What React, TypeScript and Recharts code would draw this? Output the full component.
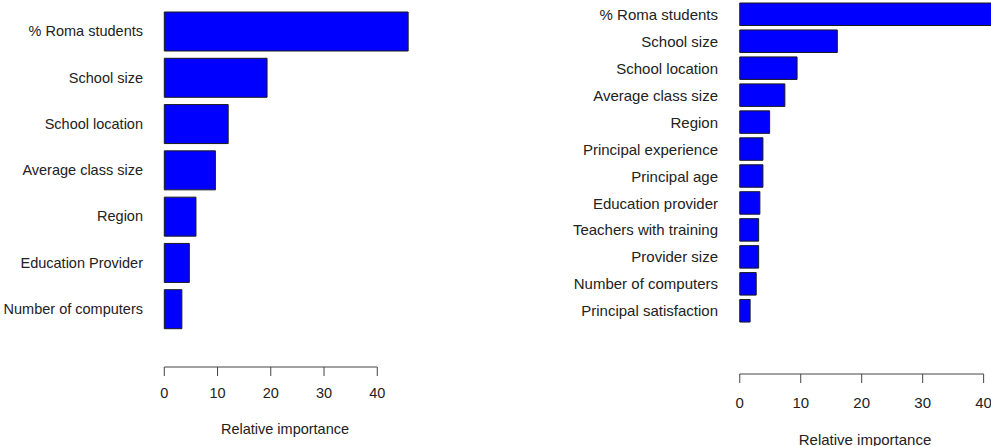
import { Bar, BarChart, XAxis, YAxis } from "recharts";

const leftNames = [
  "% Roma students",
  "School size",
  "School location",
  "Average class size",
  "Region",
  "Education Provider",
  "Number of computers",
];
const leftValues = [45.8, 19.3, 12.0, 9.6, 5.95, 4.7, 3.3];

const rightNames = [
  "% Roma students",
  "School size",
  "School location",
  "Average class size",
  "Region",
  "Principal experience",
  "Principal age",
  "Education provider",
  "Teachers with training",
  "Provider size",
  "Number of computers",
  "Principal satisfaction",
];
const rightValues = [41.5, 16.0, 9.4, 7.4, 4.9, 3.8, 3.8, 3.3, 3.1, 3.1, 2.7, 1.7];

const xTicks = [0, 10, 20, 30, 40];

const FONT = '"Liberation Sans", Arial, sans-serif';
const INK = "#222";
const AXIS = "#444";

// same limits R's barplot uses: range(-0.01*max, max), widened 4% each side
function rLimits(values: number[]): [number, number] {
  const hi = Math.max(...values);
  const lo = -0.01 * hi;
  const pad = (hi - lo) * 0.04;
  return [lo - pad, hi + pad];
}

type PanelProps = {
  names: string[];
  values: number[];
  width: number;
  height: number;
  margin: { top: number; right: number; bottom: number; left: number };
  yAxisWidth: number;
  xAxisHeight: number;
  padBottom: number;
  barSize: number;
  fontSize: number;
  tickSize: number;
  tickMargin: number;
  labelGap: number;
};

function Panel(p: PanelProps) {
  const data = p.names.map((name, i) => ({ name, value: p.values[i] }));
  const domain = rLimits(p.values);
  const plotW = p.width - p.margin.left - p.margin.right - p.yAxisWidth;
  const pxPerUnit = plotW / (domain[1] - domain[0]);
  const axisSpan = (xTicks[xTicks.length - 1] - xTicks[0]) * pxPerUnit;

  // R draws the axis line only from the first to the last tick
  const renderTick = (props: any) => {
    const { x, y, payload, index } = props;
    const axisY = y - p.tickSize - p.tickMargin;
    return (
      <g>
        {index === 0 && (
          <line x1={x} x2={x + axisSpan} y1={axisY} y2={axisY} stroke={AXIS} />
        )}
        <text
          x={x}
          y={y}
          dy="0.71em"
          textAnchor="middle"
          fill={INK}
          fontSize={p.fontSize}
          fontFamily={FONT}
        >
          {payload.value}
        </text>
      </g>
    );
  };

  return (
    <BarChart width={p.width} height={p.height} data={data} layout="vertical" margin={p.margin}>
      <XAxis
        type="number"
        domain={domain}
        allowDataOverflow
        ticks={xTicks}
        interval={0}
        height={p.xAxisHeight}
        axisLine={false}
        tickLine={{ stroke: AXIS }}
        tickSize={p.tickSize}
        tickMargin={p.tickMargin}
        tick={renderTick}
        label={{
          value: "Relative importance",
          position: "insideBottom",
          offset: p.labelGap,
          fill: INK,
          fontSize: p.fontSize,
          fontFamily: FONT,
        }}
      />
      <YAxis
        type="category"
        dataKey="name"
        width={p.yAxisWidth}
        axisLine={false}
        tickLine={false}
        tickSize={6}
        tickMargin={3}
        interval={0}
        padding={{ top: 0, bottom: p.padBottom }}
        tick={{ fill: INK, fontSize: p.fontSize, fontFamily: FONT }}
      />
      <Bar
        dataKey="value"
        fill="#0000FF"
        stroke="#1a1a1a"
        strokeWidth={1}
        barSize={p.barSize}
        isAnimationActive={false}
      />
    </BarChart>
  );
}

export default function App() {
  return (
    <div
      style={{
        position: "absolute",
        left: 0,
        top: 0,
        width: 991,
        height: 446,
        overflow: "hidden",
        background: "#fff",
      }}
    >
      <div style={{ position: "absolute", left: 0, top: 0 }}>
        <Panel
          names={leftNames}
          values={leftValues}
          width={430}
          height={446}
          margin={{ top: 8, right: 12, bottom: 9, left: 0 }}
          yAxisWidth={152}
          xAxisHeight={70}
          padBottom={35}
          barSize={39}
          fontSize={14.5}
          tickSize={9}
          tickMargin={12}
          labelGap={3}
        />
      </div>
      <div style={{ position: "absolute", left: 560, top: 0 }}>
        <Panel
          names={rightNames}
          values={rightValues}
          width={453}
          height={450}
          margin={{ top: 1, right: 10, bottom: 2, left: 0 }}
          yAxisWidth={167}
          xAxisHeight={74}
          padBottom={49.5}
          barSize={22.5}
          fontSize={15}
          tickSize={9}
          tickMargin={14}
          labelGap={3}
        />
      </div>
    </div>
  );
}
